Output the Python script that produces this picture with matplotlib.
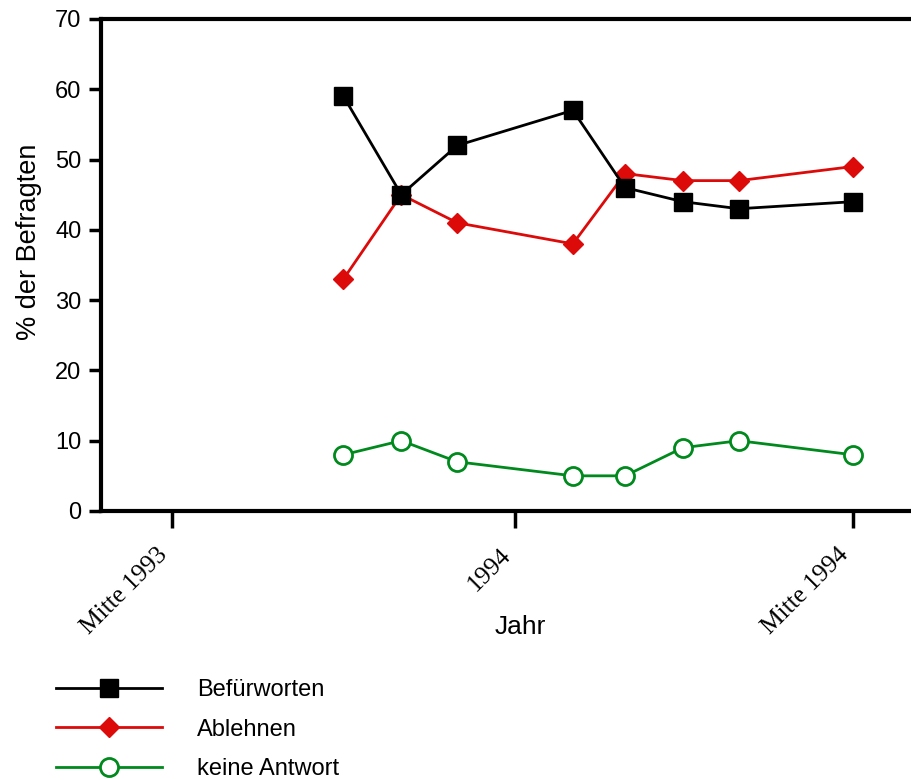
import datetime as dt
import matplotlib
matplotlib.use("Agg")
import matplotlib.pyplot as plt
import matplotlib.dates as mdates
import matplotlib.transforms as mtransforms

# survey dates (monthly polls)
dates = [dt.date(1993, 10, 1), dt.date(1993, 11, 1), dt.date(1993, 12, 1),
         dt.date(1994, 2, 1), dt.date(1994, 3, 1), dt.date(1994, 4, 1),
         dt.date(1994, 5, 1), dt.date(1994, 7, 1)]
befuerworten = [59, 45, 52, 57, 46, 44, 43, 44]
ablehnen = [33, 45, 41, 38, 48, 47, 47, 49]
keine_antwort = [8, 10, 7, 5, 5, 9, 10, 8]

tick_dates = [dt.date(1993, 7, 1), dt.date(1994, 1, 1), dt.date(1994, 7, 1)]
tick_labels = ["Mitte 1993", "1994", "Mitte 1994"]

plt.rcParams['font.family'] = ['Liberation Sans', 'DejaVu Sans']

fig = plt.figure(figsize=(9.11, 7.80), dpi=100)
ax = fig.add_axes([0.1109, 0.3449, 0.911, 0.6308])

x = mdates.date2num(dates)
ax.plot(x, keine_antwort, color='#008a1e', lw=2, marker='o', ms=13,
        mfc='white', mec='#008a1e', mew=2, label='keine Antwort', zorder=3)
ax.plot(x, ablehnen, color='#dd0a0a', lw=2, marker='D', ms=10,
        mfc='#dd0a0a', mec='#dd0a0a', label='Ablehnen', zorder=4)
ax.plot(x, befuerworten, color='black', lw=2, marker='s', ms=13.5,
        mfc='black', mec='black', label='Befürworten', zorder=5)

ax.set_xlim(mdates.date2num(dt.date(1993, 5, 24)), mdates.date2num(dt.date(1994, 8, 12)))
ax.set_ylim(0, 70)
ax.set_yticks(range(0, 71, 10))
ax.set_xticks(mdates.date2num(tick_dates))
ax.set_xticklabels(tick_labels, rotation=45, ha='right', va='center',
                   rotation_mode='anchor', fontfamily='Liberation Serif', fontsize=18.3)
ax.tick_params(axis='y', labelsize=17, length=9, width=2.5, direction='out', pad=5)
ax.tick_params(axis='x', length=12, width=2.5, direction='out', pad=16)

# nudge the slanted date labels a little to the left
shift = mtransforms.ScaledTranslation(-8 / 100, -2 / 100, fig.dpi_scale_trans)
for lab in ax.get_xticklabels():
    lab.set_transform(lab.get_transform() + shift)

ax.spines['right'].set_visible(False)
for s in ['left', 'bottom', 'top']:
    ax.spines[s].set_linewidth(3)

ax.set_xlabel('Jahr', fontsize=19)
ax.xaxis.set_label_coords(0.505, -0.211)
ax.set_ylabel('% der Befragten', fontsize=19.5)
ax.yaxis.set_label_coords(-0.071, 0.547)

h, l = ax.get_legend_handles_labels()
fig.legend(h[::-1], l[::-1], loc='upper left', bbox_to_anchor=(0.062, 0.129),
           frameon=False, fontsize=17, handlelength=4.45, handletextpad=1.5,
           labelspacing=0.73, borderaxespad=0, borderpad=0)

fig.savefig('out.png', dpi=100)
